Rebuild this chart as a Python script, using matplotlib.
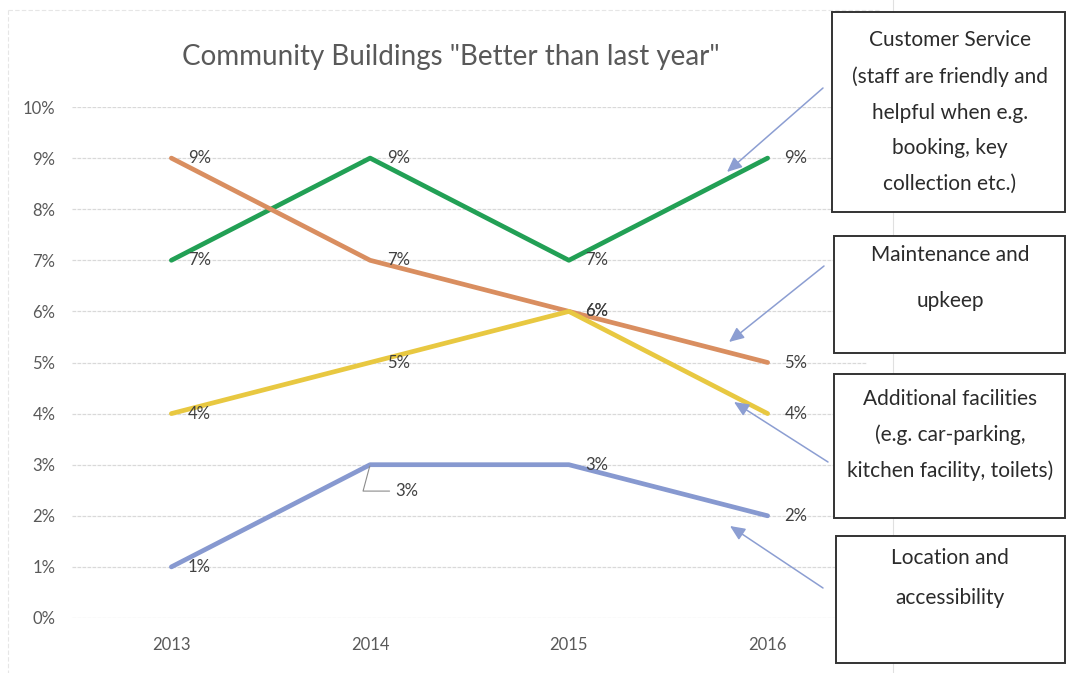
import matplotlib
matplotlib.use("Agg")
import matplotlib.pyplot as plt
from matplotlib.patches import Rectangle

plt.rcParams['font.family'] = ['Lato', 'DejaVu Sans']

# data ---------------------------------------------------
years = ['2013', '2014', '2015', '2016']
customer_service = [7, 9, 7, 9]
maintenance = [9, 7, 6, 5]
additional = [4, 5, 6, 4]
location = [1, 3, 3, 2]

series = [
    (customer_service, '#22a055'),
    (maintenance, '#d98e60'),
    (additional, '#e8c841'),
    (location, '#8799d0'),
]

box_texts = [
    'Customer Service\n(staff are friendly and\nhelpful when e.g.\nbooking, key\ncollection etc.)',
    'Maintenance and\nupkeep',
    'Additional facilities\n(e.g. car-parking,\nkitchen facility, toilets)',
    'Location and\naccessibility',
]

# figure -------------------------------------------------
W, H = 1067, 673
fig = plt.figure(figsize=(W / 100, H / 100), dpi=100)
ax = fig.add_axes([72 / W, 1 - 618 / H, (867 - 72) / W, (618 - 107) / H])

x = list(range(len(years)))
for vals, col in series:
    ax.plot(x, [v / 100 for v in vals], color=col, lw=3.4, solid_capstyle='round', zorder=3)

# data labels
for vals, col in series:
    for i, v in enumerate(vals):
        if vals is location and i == 1:
            continue
        ax.annotate(f'{v}%', (i, v / 100), xytext=(12, 0), textcoords='offset points',
                    ha='left', va='center', fontsize=12, color='#404040', zorder=4)

# 2014 location label with leader line
ax.annotate('3%', (1, location[1] / 100), xytext=(18, -19), textcoords='offset points',
            ha='left', va='center', fontsize=12, color='#404040', zorder=4,
            arrowprops=dict(arrowstyle='-', color='#8c8c8c', lw=0.8,
                            connectionstyle='angle,angleA=0,angleB=75,rad=0',
                            shrinkA=2, shrinkB=1))

ax.set_xlim(-0.5, 3.5)
ax.set_ylim(0, 0.10)
ax.set_xticks(x)
ax.set_xticklabels(years)
ax.set_yticks([i / 100 for i in range(11)])
ax.set_yticklabels([f'{i}%' for i in range(11)])
ax.tick_params(length=0, labelsize=12, colors='#595959', pad=12)
ax.tick_params(axis='x', pad=14)
ax.grid(axis='y', color='#d9d9d9', lw=0.9, ls=(0, (3, 1)))
ax.set_axisbelow(True)
for s in ax.spines.values():
    s.set_visible(False)

fig.text(451 / W, 1 - 57 / H, 'Community Buildings "Better than last year"',
         ha='center', va='center', fontsize=20, color='#595959')

# overlay for boxes and arrows (pixel coordinates)
ov = fig.add_axes([0, 0, 1, 1])
ov.set_xlim(0, W)
ov.set_ylim(H, 0)
ov.axis('off')
ov.patch.set_alpha(0)

# faint chart border and scan lines
ov.plot([8, 880], [10, 10], color='#e6e6e6', lw=0.8, ls=(0, (4, 2)))
ov.plot([8, 8], [10, 673], color='#e6e6e6', lw=0.8, ls=(0, (4, 2)))
ov.plot([893, 893], [0, 673], color='#e0e0e0', lw=0.8)

boxes = [(832, 12, 1065, 212), (834, 236, 1065, 353), (834, 374, 1065, 518), (836, 536, 1065, 663)]
text_y = [112, 278, 435, 578]
spacing = [1.98, 2.6, 1.9, 2.3]
for (x0, y0, x1, y1), t, ty, sp in zip(boxes, box_texts, text_y, spacing):
    ov.add_patch(Rectangle((x0, y0), x1 - x0, y1 - y0, facecolor='white',
                           edgecolor='#333333', lw=1.4, zorder=5))
    ov.text(950, ty, t, ha='center', va='center', fontsize=15,
            color='#2b2b2b', linespacing=sp, zorder=6)

arrows = [((823, 88), (727, 172)), ((824, 266), (729, 342)),
          ((828, 462), (734, 402)), ((823, 588), (730, 526))]
for (sx, sy), (hx, hy) in arrows:
    ov.annotate('', xy=(hx, hy), xytext=(sx, sy),
                arrowprops=dict(arrowstyle='-|>,head_length=0.9,head_width=0.4',
                                color='#8c9ed2', lw=1.1, shrinkA=0, shrinkB=0), zorder=6)

fig.savefig('out.png', dpi=100)
